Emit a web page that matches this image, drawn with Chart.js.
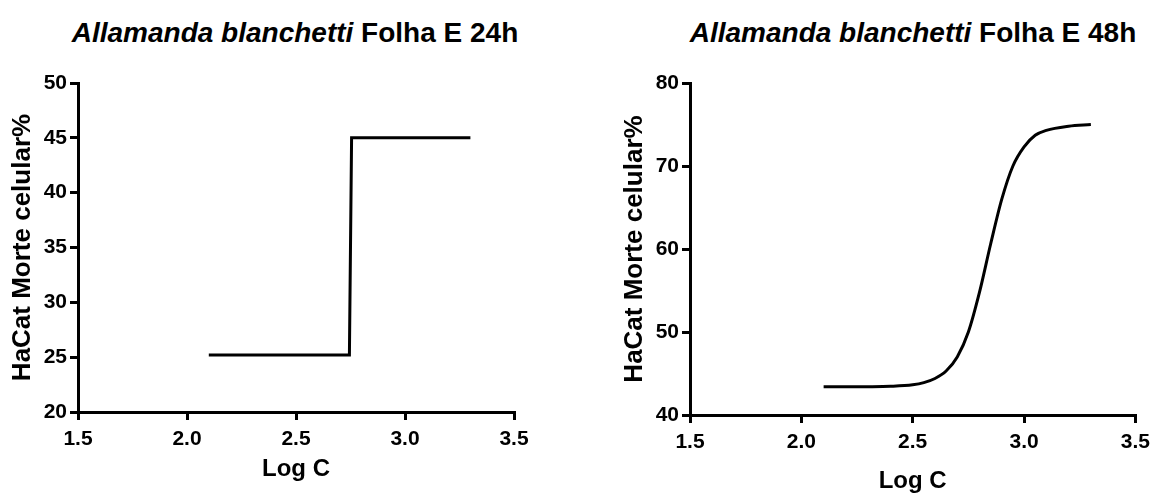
<!DOCTYPE html>
<html>
<head>
<meta charset="utf-8">
<script src="https://cdn.jsdelivr.net/npm/chart.js@4"></script>
<style>
  html, body { margin: 0; padding: 0; background: #fff; overflow: hidden; }
  body { width: 1157px; height: 493px; position: relative; font-family: "Liberation Sans", Arial, sans-serif; }
  .title { position: absolute; top: 17px; width: 560px; text-align: center; font-weight: bold; font-size: 28px; color: #000; white-space: nowrap; }
  .box { position: absolute; top: 60px; height: 450px; }
</style>
</head>
<body>
<div class="title" style="left:15px"><i>Allamanda blanchetti</i> Folha E 24h</div>
<div class="title" style="left:633px"><i>Allamanda blanchetti</i> Folha E 48h</div>
<div class="box" style="left:0; width:560px"><canvas id="chart24"></canvas></div>
<div class="box" style="left:612px; width:545px"><canvas id="chart48"></canvas></div>
<script>
// 24h: step response
const logC24 = [2.10, 2.745, 2.755, 3.30];
const morte24 = [25.2, 25.2, 45.0, 45.0];

// 48h: sigmoid fit
const logC48 = [2.10, 2.20, 2.30, 2.40, 2.50, 2.55, 2.60, 2.65, 2.70, 2.75, 2.80, 2.85, 2.90, 2.95, 3.00, 3.05, 3.10, 3.20, 3.30];
const morte48 = [43.4, 43.4, 43.41, 43.46, 43.64, 43.9, 44.4, 45.3, 47.0, 50.0, 54.8, 60.6, 66.0, 70.0, 72.3, 73.7, 74.3, 74.8, 75.0];

const xTicks = [1.5, 2.0, 2.5, 3.0, 3.5];

const FONT = '"Liberation Sans", Arial, sans-serif';

function pts(xs, ys) {
  return xs.map((x, i) => ({ x: x, y: ys[i] }));
}

function makeChart(id, xs, ys, yMin, yMax, yStep, padRight, xAxisHeight, titleBottom, smooth) {
  const ctx = document.getElementById(id).getContext('2d');
  return new Chart(ctx, {
    type: 'scatter',
    data: {
      datasets: [{
        data: pts(xs, ys),
        showLine: true,
        borderColor: '#000',
        borderWidth: 3,
        pointRadius: 0,
        tension: 0,
        cubicInterpolationMode: smooth ? 'monotone' : 'default'
      }]
    },
    options: {
      responsive: true,
      maintainAspectRatio: false,
      animation: false,
      layout: { padding: { top: 23, right: padRight, bottom: 0, left: 0 } },
      plugins: { legend: { display: false }, tooltip: { enabled: false } },
      scales: {
        x: {
          type: 'linear',
          min: 1.5, max: 3.5,
          afterBuildTicks: (s) => { s.ticks = xTicks.map(v => ({ value: v })); },
          afterFit: (s) => { s.height = xAxisHeight; },
          ticks: {
            color: '#000',
            font: { family: FONT, size: 21, weight: 'bold' },
            padding: 7,
            maxRotation: 0,
            callback: (v) => Number(v).toFixed(1)
          },
          grid: { display: true, drawOnChartArea: false, drawTicks: true, tickLength: 8, color: '#000', lineWidth: 3 },
          border: { display: true, color: '#000', width: 3 },
          title: { display: true, text: 'Log C', color: '#000', font: { family: FONT, size: 24, weight: 'bold' }, padding: { top: 0, bottom: titleBottom } }
        },
        y: {
          min: yMin, max: yMax,
          afterFit: (s) => { s.width = 78; },
          ticks: {
            stepSize: yStep,
            color: '#000',
            font: { family: FONT, size: 21, weight: 'bold' },
            padding: 3
          },
          grid: { display: true, drawOnChartArea: false, drawTicks: true, tickLength: 8, color: '#000', lineWidth: 3 },
          border: { display: true, color: '#000', width: 3 },
          title: { display: true, text: 'HaCat Morte celular%', color: '#000', font: { family: FONT, size: 26, weight: 'bold' }, padding: { top: 7, bottom: 0 } }
        }
      }
    }
  });
}

makeChart('chart24', logC24, morte24, 20, 50, 5, 46, 98, 26, false);
makeChart('chart48', logC48, morte48, 40, 80, 10, 18, 95, 14, true);
</script>
</body>
</html>
